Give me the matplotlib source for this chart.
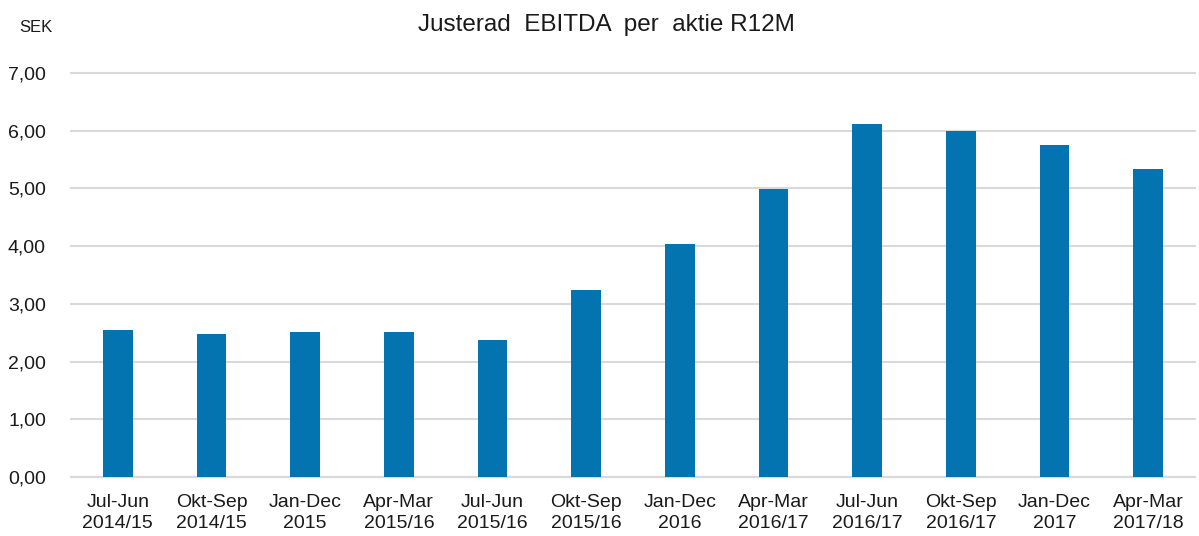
import matplotlib
matplotlib.use("Agg")
import matplotlib.pyplot as plt
from matplotlib.ticker import FuncFormatter

plt.rcParams["font.family"] = ["Liberation Sans", "DejaVu Sans"]

categories = ["Jul-Jun\n2014/15", "Okt-Sep\n2014/15", "Jan-Dec\n2015", "Apr-Mar\n2015/16",
              "Jul-Jun\n2015/16", "Okt-Sep\n2015/16", "Jan-Dec\n2016", "Apr-Mar\n2016/17",
              "Jul-Jun\n2016/17", "Okt-Sep\n2016/17", "Jan-Dec\n2017", "Apr-Mar\n2017/18"]
values = [2.55, 2.48, 2.51, 2.51, 2.37, 3.24, 4.03, 4.99, 6.12, 5.99, 5.75, 5.33]
yticks = [0, 1, 2, 3, 4, 5, 6, 7]

W, H = 1199, 536
fig = plt.figure(figsize=(W / 100, H / 100), dpi=100)
ax = fig.add_axes([71 / W, 59 / H, (1195 - 71) / W, (477 - 73) / H])

x = range(len(categories))
ax.bar(x, values, width=0.32, color="#0474B0", zorder=3)
ax.set_xlim(-0.5, len(categories) - 0.5)
ax.set_ylim(0, 7)
ax.set_yticks(yticks)
ax.yaxis.set_major_formatter(FuncFormatter(lambda v, p: f"{v:.2f}".replace(".", ",")))
ax.set_xticks(list(x))
ax.set_xticklabels(categories, fontsize=14, color="#1a1a1a", linespacing=1.35)
for lbl in ax.get_yticklabels():
    lbl.set_fontsize(14)
    lbl.set_color("#1a1a1a")
ax.tick_params(axis="both", length=0)
ax.tick_params(axis="y", pad=18)
ax.tick_params(axis="x", pad=12)
ax.grid(axis="y", color="#d9d9d9", linewidth=1.5, zorder=0)
for gl in ax.get_ygridlines():
    gl.set_clip_on(False)
for s in ["top", "right", "left"]:
    ax.spines[s].set_visible(False)
ax.spines["bottom"].set_color("#d9d9d9")
ax.spines["bottom"].set_linewidth(1.5)

fig.text(606 / W, 1 - 25 / H, "Justerad  EBITDA  per  aktie R12M", ha="center", va="center",
         fontsize=17.5, color="#1a1a1a")
fig.text(53 / W, 1 - 28 / H, "SEK", ha="right", va="center", fontsize=12, color="#1a1a1a")

fig.savefig("out.png", dpi=100)
